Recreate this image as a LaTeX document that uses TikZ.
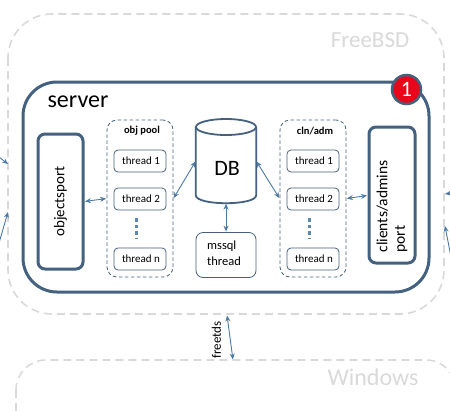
\documentclass[tikz,border=0pt]{standalone}
\usepackage{fontspec}
\setmainfont{Carlito}
\usetikzlibrary{shapes.geometric,arrows.meta,calc}
\definecolor{frameblue}{HTML}{44617F}
\definecolor{arrowblue}{HTML}{4C7AA6}
\definecolor{dashgrey}{HTML}{D9D9D9}
\definecolor{osgrey}{HTML}{D9D9D9}
\definecolor{badgered}{HTML}{E8071A}
\tikzset{
  x=1pt,y=-1pt,
  osbox/.style={draw=dashgrey,line width=1.6pt,dash pattern=on 8pt off 5pt,rounded corners=44pt},
  oslabel/.style={text=osgrey,inner sep=0pt},
  serverbox/.style={draw=frameblue,line width=3pt,rounded corners=34pt,fill=white},
  portbox/.style={draw=frameblue,line width=3pt,rounded corners=7pt,inner sep=0pt},
  poolbox/.style={draw=frameblue,line width=.8pt,dashed,dash pattern=on 3.5pt off 2.5pt,rounded corners=10pt},
  threadbox/.style={draw=frameblue,line width=.8pt,rounded corners=4pt,minimum width=52pt,minimum height=22pt,inner sep=0pt,font=\fontsize{11}{13}\selectfont},
  pooltitle/.style={font=\fontsize{10.5}{12}\selectfont\bfseries,inner sep=0pt},
  link/.style={draw=arrowblue,line width=.9pt,{Stealth[length=6pt,width=5pt]}-{Stealth[length=6pt,width=5pt]},shorten >=.5pt,shorten <=.5pt},
  oneway/.style={draw=arrowblue,line width=.9pt,-{Stealth[length=6pt,width=5pt]}},
  dotsline/.style={draw=arrowblue!90,line width=3.5pt,dash pattern=on 3.2pt off 3.3pt},
  dbline/.style={draw=frameblue,line width=1.8pt},
}
\begin{document}
\begin{tikzpicture}
\useasboundingbox (0,0) rectangle (450,410);
\clip (0,0) rectangle (450,410);
% OS frames
\draw[osbox] (8,14) rectangle (444,314);
\coordinate (fbw1) at (8,164);
\coordinate (fbw2) at (8,212);
\coordinate (fbe1) at (445,194);
\coordinate (fbe2) at (445,226);
\coordinate (fbs) at (227,315);
\draw[osbox,rounded corners=30pt] (16,360) rectangle (456,450);
\coordinate (wn) at (233,360);
\node[oslabel,anchor=center,font=\fontsize{23}{25}\selectfont] (freebsd) at (370,40) {FreeBSD};
\node[oslabel,anchor=center,font=\fontsize{24}{26}\selectfont] (windows) at (373,377.5) {Windows};
% server
\draw[serverbox] (23,82) rectangle (429,292);
\node[anchor=center,inner sep=0pt,font=\fontsize{24}{26}\selectfont] (server) at (78,102) {server};
\node[circle,draw=frameblue,line width=2.5pt,fill=badgered,minimum size=29pt,inner sep=0pt,text=white,font=\fontsize{22}{24}\selectfont] (badge) at (406.5,89.5) {1};
% ports
\node[portbox,minimum width=45pt,minimum height=135pt] (objport) at (60.5,201.5) {};
\node[rotate=90,inner sep=0pt,font=\fontsize{15}{17}\selectfont] (objlabel) at (60.5,201.5) {objectsport};
\node[portbox,minimum width=46pt,minimum height=136pt] (cliport) at (392,195) {};
\node[rotate=90,inner sep=0pt,align=left,font=\fontsize{15.5}{17.5}\selectfont] (clilabel) at (392,206.5) {clients/admins\\port};
% pools
\node[poolbox,minimum width=66pt,minimum height=157pt] (pool) at (140,198.5) {};
\node[pooltitle] (pooltitle) at (142,131) {obj pool};
\node[threadbox] (p1) at (140,161) {\hspace{2pt}thread 1};
\node[threadbox] (p2) at (140,199) {\hspace{2pt}thread 2};
\node[threadbox] (pn) at (140,259) {\hspace{2pt}thread n};
\node[poolbox,minimum width=66pt,minimum height=157pt] (cln) at (313,198.5) {};
\node[pooltitle] (clntitle) at (315,131) {cln/adm};
\node[threadbox] (c1) at (313,161) {\hspace{2pt}thread 1};
\node[threadbox] (c2) at (313,199) {\hspace{2pt}thread 2};
\node[threadbox] (cn) at (313,259) {\hspace{2pt}thread n};
\draw[dotsline] ($(p2.south)+(-3.5,8)$) -- ($(pn.north)+(-3.5,-8.5)$);
\draw[dotsline] ($(c2.south)+(-3.5,8)$) -- ($(cn.north)+(-3.5,-8.5)$);
% DB
\node[minimum width=60pt,minimum height=84pt,inner sep=0pt] (db) at (226,161) {};
\draw[dbline] (226,127) ellipse [x radius=30pt,y radius=8pt];
\draw[dbline] ($(db.north west)+(0,8)$) -- ($(db.south west)+(0,-8)$)
  .. controls ($(db.south west)+(0,2.7)$) and ($(db.south east)+(0,2.7)$) .. ($(db.south east)+(0,-8)$)
  -- ($(db.north east)+(0,8)$);
\node[inner sep=0pt,font=\fontsize{22}{24}\selectfont] (dblabel) at (227,168) {DB};
\node[draw=frameblue,line width=.8pt,rounded corners=7pt,minimum width=60pt,minimum height=45pt,inner sep=0pt] (mssql) at (226,255) {};
\node[inner sep=0pt,align=left,font=\fontsize{12.5}{16}\selectfont] (mssqllabel) at (224,253) {mssql\\thread};
% external links
\coordinate (xw1) at (-1,157);
\coordinate (xw2) at (-1,243);
\coordinate (xe1) at (452,193);
\coordinate (xe2) at (452,262);
\draw[oneway] (xw1) -- (fbw1);
\draw[oneway] (xw2) -- (fbw2);
\draw[oneway] (xe1) -- (fbe1);
\draw[oneway] (xe2) -- (fbe2);
% links
\draw[link] (objport.east) -- (pool.west);
\draw[link] (pool.east) -- (db.west);
\draw[link] (db.east) -- (cln.west);
\draw[link] (cln.east) -- ($(cliport.west)+(0,.5)$);
\draw[link] (db.south) -- (mssql.north);
\draw[link] (fbs) -- (wn);
\node[rotate=90,inner sep=0pt,font=\fontsize{13}{15}\selectfont] (freetds) at (216.5,340) {freetds};
\end{tikzpicture}
\end{document}
